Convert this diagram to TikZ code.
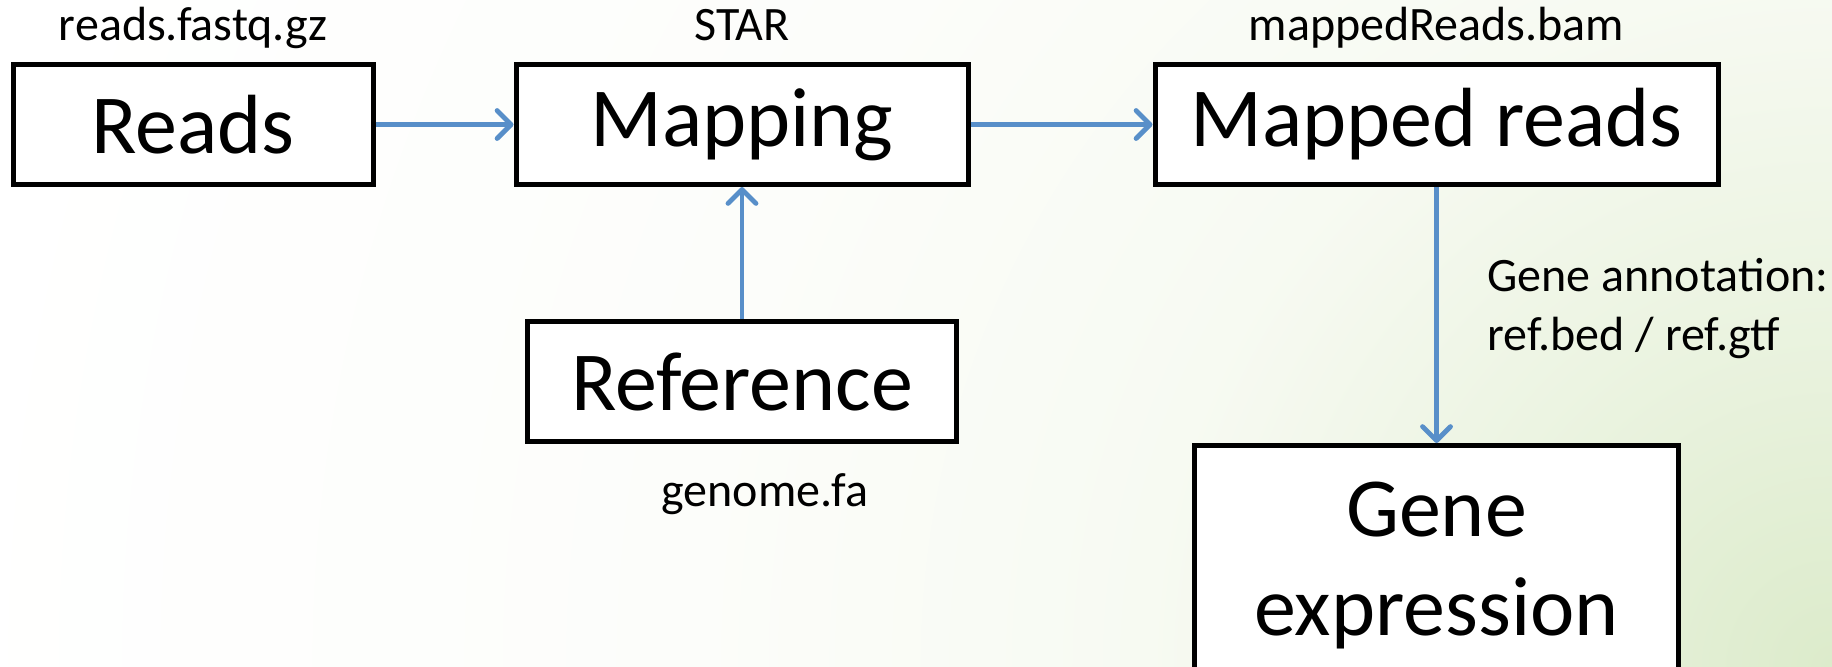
\documentclass[tikz,border=0pt]{standalone}
\usepackage{fontspec}
\setmainfont{Carlito}
\usepackage{xcolor}
\usetikzlibrary{positioning,arrows.meta}
\definecolor{arrowblue}{RGB}{88,143,201}
\definecolor{bggreen}{RGB}{220,235,203}
\definecolor{bgmid}{RGB}{236,244,226}
\definecolor{bgpale}{RGB}{247,250,242}
\definecolor{bgfaint}{RGB}{252,253,250}
\pgfdeclareradialshading{bgglow}{\pgfpoint{0bp}{0bp}}{%
	color(0bp)=(bggreen); color(5bp)=(bgmid); color(9bp)=(bgpale);
	color(15bp)=(bgfaint); color(25bp)=(white); color(50bp)=(white)}

\begin{document}
\begin{tikzpicture}
	\tikzset{
		my box/.style={
				draw, line width=2.5pt, fill=white, inner sep=0pt,
				minimum height=60pt, align=center,
				font=\fontsize{42}{49.5}\selectfont,
			},
		my label/.style={inner sep=0pt, font=\fontsize{24}{29.5}\selectfont},
		my arrow/.style={draw=arrowblue, line width=2.4pt,
				-{Straight Barb[length=7pt,width=14pt,round]}},
	}
	% background and page size
	\fill[white] (0,0) rectangle (916pt,-333pt);
	\useasboundingbox (0,0) rectangle (916pt,-333pt);
	\clip (0,0) rectangle (916pt,-333pt);
	\shade[shading=bgglow] (916pt,-333pt) circle (950pt);
	%
	\node[my box, minimum width=180pt] at (96.5pt,-62.25pt) (reads) {Reads};
	\node[my box, minimum width=226pt, right=69pt of reads] (mapping) {Mapping};
	\node[my box, minimum width=281.5pt, right=91pt of mapping] (mapped) {Mapped reads};
	\node[my box, minimum width=214.5pt, below=66pt of mapping] (reference) {Reference};
	\node[my box, minimum width=242pt, minimum height=120pt, below=128pt of mapped] (gene) {Gene\\expression};
	%
	\node[my label, above=11pt of reads, anchor=base] (readsfile) {reads.fastq.gz};
	\node[my label, above=11pt of mapping, anchor=base] (star) {STAR};
	\node[my label, above=11pt of mapped, anchor=base] (bamfile) {mappedReads.bam};
	\node[my label, below=31pt of reference, anchor=base, xshift=11.5pt] (genomefile) {genome.fa};
	\node[my label, align=left, anchor=north west] at (743.5pt,-129pt) (annot) {Gene annotation:\\ref.bed / ref.gtf};
	%
	\draw[my arrow] (reads) -- (mapping);
	\draw[my arrow] (mapping) -- (mapped);
	\draw[my arrow] (reference) -- (mapping);
	\draw[my arrow] (mapped) -- (gene);
\end{tikzpicture}
\end{document}
